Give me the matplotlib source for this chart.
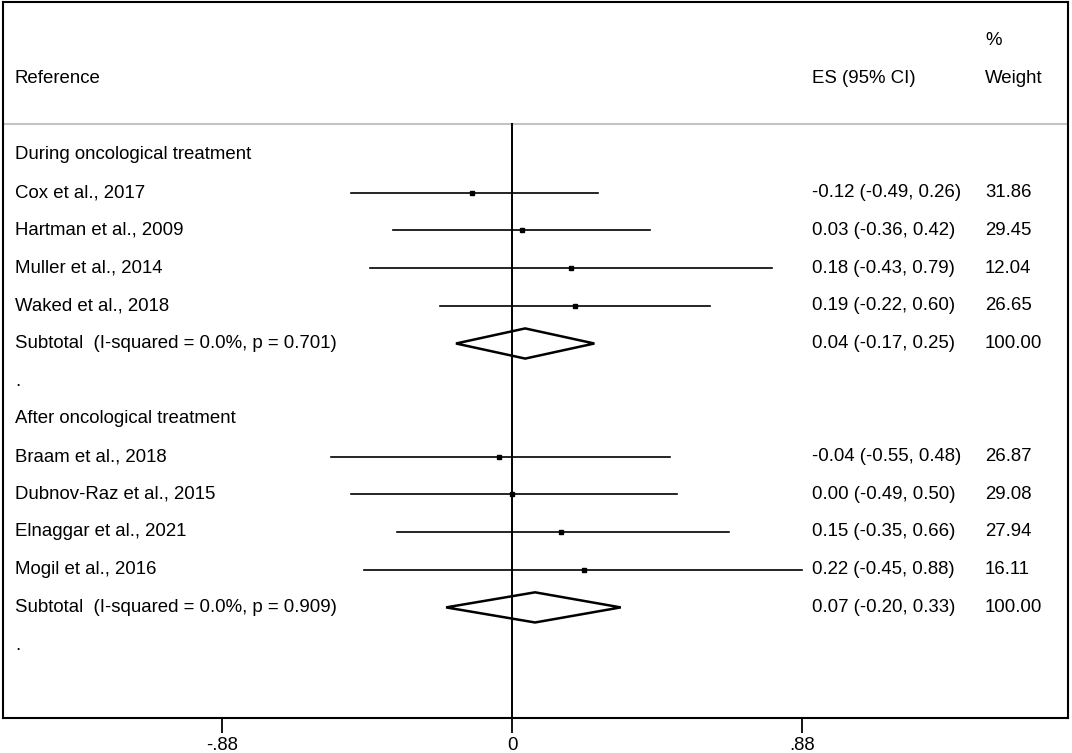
import numpy as np
import matplotlib.pyplot as plt
from matplotlib.patches import Polygon

plt.rcParams['font.family'] = ['Liberation Sans', 'DejaVu Sans']

# ---------------- data ----------------
group1 = 'During oncological treatment'
studies1 = ['Cox et al., 2017', 'Hartman et al., 2009', 'Muller et al., 2014', 'Waked et al., 2018']
es1 = [-0.12, 0.03, 0.18, 0.19]
lo1 = [-0.49, -0.36, -0.43, -0.22]
hi1 = [0.26, 0.42, 0.79, 0.60]
w1 = [31.86, 29.45, 12.04, 26.65]
sub1 = (0.04, -0.17, 0.25)
sub1_lbl = 'Subtotal  (I-squared = 0.0%, p = 0.701)'

group2 = 'After oncological treatment'
studies2 = ['Braam et al., 2018', 'Dubnov-Raz et al., 2015', 'Elnaggar et al., 2021', 'Mogil et al., 2016']
es2 = [-0.04, 0.00, 0.15, 0.22]
lo2 = [-0.55, -0.49, -0.35, -0.45]
hi2 = [0.48, 0.50, 0.66, 0.88]
w2 = [26.87, 29.08, 27.94, 16.11]
sub2 = (0.07, -0.20, 0.33)
sub2_lbl = 'Subtotal  (I-squared = 0.0%, p = 0.909)'

xticks = [-0.88, 0, 0.88]
xticklabels = ['-.88', '0', '.88']

# ---------------- layout ----------------
W, H = 1072, 753
fig = plt.figure(figsize=(W / 100, H / 100), dpi=100)
ax = fig.add_axes([3 / W, (H - 718) / H, 1065 / W, 716 / H])

px_per_unit = 329.5
ax.set_xlim((3 - 512) / px_per_unit, (1068 - 512) / px_per_unit)
row_px = 37.7
ax.set_ylim((718 - 155) / row_px, (2 - 155) / row_px)  # inverted, row 0 = first group header

fs = 13.4
tr = ax.get_yaxis_transform()  # x in axes fraction, y in data
x_lbl = 12 / 1065
x_es = 809 / 1065
x_w = 982 / 1065

def row_label(y, s):
    ax.text(x_lbl, y, s, transform=tr, fontsize=fs, va='center', ha='left')

def es_label(y, e, l, h, w):
    ax.text(x_es, y, f'{e:.2f} ({l:.2f}, {h:.2f})', transform=tr, fontsize=fs, va='center', ha='left')
    ax.text(x_w, y, f'{w:.2f}', transform=tr, fontsize=fs, va='center', ha='left')

# header
ax.text(x_lbl, -2.04, 'Reference', transform=tr, fontsize=fs, va='center')
ax.text(x_es, -2.04, 'ES (95% CI)', transform=tr, fontsize=fs, va='center')
ax.text(x_w, -2.04, 'Weight', transform=tr, fontsize=fs, va='center')
ax.text(x_w, -3.05, '%', transform=tr, fontsize=fs, va='center')
ax.axhline(-0.82, color='#c4c4c4', lw=1.5)

# null line
ax.plot([0, 0], [-0.82, 20], color='black', lw=1.4, zorder=3)

def draw_group(y0, name, studies, es, lo, hi, w, sub, sub_lbl):
    row_label(y0, name)
    for i, (s, e, l, h, wt) in enumerate(zip(studies, es, lo, hi, w)):
        y = y0 + 1 + i
        row_label(y, s)
        ax.plot([l, h], [y, y], color='black', lw=1.2)
        ax.plot([e], [y], marker='s', ms=3.5, color='black', mec='black')
        es_label(y, e, l, h, wt)
    ys = y0 + 1 + len(studies)
    row_label(ys, sub_lbl)
    e, l, h = sub
    dh = 0.4
    ax.add_patch(Polygon([(l, ys), (e, ys - dh), (h, ys), (e, ys + dh)], closed=True,
                         fill=False, edgecolor='black', lw=1.8, zorder=4))
    es_label(ys, e, l, h, 100.0)
    row_label(ys + 1, '.')
    return ys + 2

nxt = draw_group(0, group1, studies1, es1, lo1, hi1, w1, sub1, sub1_lbl)
draw_group(nxt, group2, studies2, es2, lo2, hi2, w2, sub2, sub2_lbl)

# axes styling
for sp in ax.spines.values():
    sp.set_linewidth(1.5)
ax.set_yticks([])
ax.set_xticks(xticks)
ax.set_xticklabels(xticklabels, fontsize=13.4)
ax.tick_params(axis='x', direction='out', length=11, width=1.3, pad=3)

fig.savefig('out.png', dpi=100)
